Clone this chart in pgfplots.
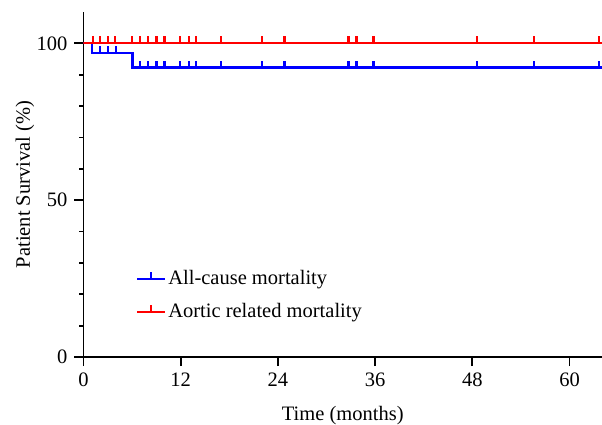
\documentclass[border=0pt]{standalone}
\usepackage{fontspec}
\setmainfont{Liberation Serif}
\usepackage{pgfplots}
\pgfplotsset{compat=1.18}

% censor tick pointing up from the curve
\pgfdeclareplotmark{cens}{%
  \pgfpathmoveto{\pgfpoint{0pt}{0pt}}%
  \pgfpathlineto{\pgfpoint{0pt}{7pt}}%
  \pgfusepathqstroke}
\pgfplotsset{censleg/.style={legend image code/.code={%
  \draw[##1] (0pt,0pt) -- (28pt,0pt); \draw[##1] (14pt,0pt) -- (14pt,7pt);}}}

\begin{document}
\fontsize{20.5}{24}\selectfont
\begin{tikzpicture}
\begin{axis}[
  name=ax, scale only axis, width=518.5pt, height=345pt,
  xmin=0, xmax=64, ymin=0, ymax=110,
  axis x line=bottom, axis y line=left,
  axis line style={-, line width=1.8pt},
  xtick={0,12,24,36,48,60}, ytick={0,50,100},
  minor y tick num=4,
  tick align=outside,
  major tick length=9pt, minor tick length=4pt,
  every tick/.style={black, line width=1.8pt},
  tick label style={font=\fontsize{20.5}{24}\selectfont},
  /pgf/number format/assume math mode=true,
  xlabel={Time (months)}, ylabel={Patient Survival (\%)},
  label style={font=\fontsize{20.5}{24}\selectfont},
  xlabel style={at={(axis description cs:0.5,-0.185)}, anchor=base},
  ylabel style={at={(axis description cs:-0.113,0.5)}, anchor=center},
  legend style={draw=none, fill=none, at={(axis cs:6.1,29)}, anchor=north west,
    font=\fontsize{20.5}{24}\selectfont, row sep=12pt},
  legend cell align=left,
]
% all-cause mortality
\addplot[blue, line width=2.2pt, const plot, forget plot] coordinates
  {(0,100)(1,96.8)(6.05,92.3)(64,92.3)};
\addplot[blue, line width=2.2pt, only marks, mark=cens, forget plot] coordinates
  {(2,96.8)(3,96.8)(4,96.8)
   (7,92.3)(8,92.3)(9,92.3)(10,92.3)(11.9,92.3)(13,92.3)(13.9,92.3)
   (17,92.3)(22,92.3)(24.8,92.3)(32.7,92.3)(33.7,92.3)(35.8,92.3)
   (48.6,92.3)(55.6,92.3)(63.6,92.3)};
% aortic related mortality
\addplot[red, line width=2.2pt, const plot, forget plot] coordinates
  {(0,100)(64,100)};
\addplot[red, line width=2.2pt, only marks, mark=cens, forget plot] coordinates
  {(1.2,100)(2.05,100)(3,100)(3.9,100)
   (6,100)(7,100)(8,100)(9,100)(10,100)(11.9,100)(13,100)(13.9,100)
   (17,100)(22,100)(24.8,100)(32.7,100)(33.7,100)(35.8,100)
   (48.6,100)(55.6,100)(63.6,100)};
\addlegendimage{blue, line width=2.2pt, censleg}
\addlegendentry{All-cause mortality}
\addlegendimage{red, line width=2.2pt, censleg}
\addlegendentry{Aortic related mortality}
\end{axis}
\pgfresetboundingbox
\useasboundingbox (ax.south west) ++(-83.5pt,-68pt) rectangle ([yshift=12pt]ax.north east);
\end{tikzpicture}
\end{document}
